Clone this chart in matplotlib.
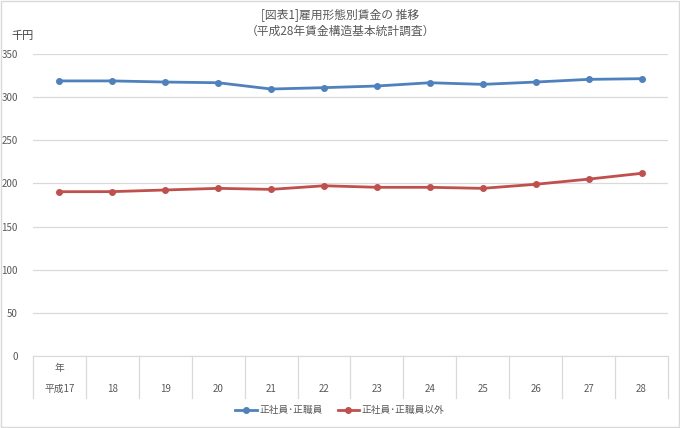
import matplotlib.pyplot as plt
from matplotlib.patches import Rectangle

plt.rcParams['font.family'] = ['Noto Sans CJK JP', 'DejaVu Sans']

years = ['平成17', '18', '19', '20', '21', '22', '23', '24', '25', '26', '27', '28']
regular = [318.8, 318.8, 317.5, 316.7, 309.4, 311.0, 312.9, 316.7, 314.8, 317.5, 320.6, 321.4]
non_regular = [190.4, 190.5, 192.4, 194.3, 193.1, 197.3, 195.5, 195.5, 194.3, 199.0, 205.0, 211.7]
yticks = [0, 50, 100, 150, 200, 250, 300, 350]

txt = '#595959'
grid = '#D9D9D9'

fig = plt.figure(figsize=(6.8, 4.28), dpi=100)
fig.patches.append(Rectangle((0.001, 0.002), 0.997, 0.995, transform=fig.transFigure,
                             fill=False, edgecolor=grid, linewidth=1))
ax = fig.add_axes([33 / 680, 1 - 356 / 428, 635 / 680, 302 / 428])

x = list(range(len(years)))
ax.plot(x, regular, color='#4F81BD', lw=2, marker='o', ms=4, label='正社員･正職員')
ax.plot(x, non_regular, color='#C0504D', lw=2, marker='o', ms=4, label='正社員･正職員以外')

ax.set_xlim(-0.5, len(years) - 0.5)
ax.set_ylim(0, 350)
ax.set_yticks(yticks)
ax.tick_params(axis='y', length=0, pad=11, labelsize=7, labelcolor=txt)
ax.set_xticks([])
ax.yaxis.grid(True, color=grid, lw=0.9)
ax.set_axisbelow(True)
for s in ['left', 'right', 'top']:
    ax.spines[s].set_visible(False)
ax.spines['bottom'].set_color(grid)

# x axis table
tr = ax.get_xaxis_transform()
for b in [i - 0.5 for i in range(len(years) + 1)]:
    ax.plot([b, b], [0, -42 / 302], color=grid, lw=0.9, transform=tr, clip_on=False)
for i, lab in enumerate(years):
    ax.text(i, -33 / 302, lab, transform=tr, ha='center', va='center', fontsize=7, color=txt)
ax.text(0, -12 / 302, '年', transform=tr, ha='center', va='center', fontsize=7, color=txt)

fig.text(23 / 680, 1 - 36 / 428, '千円', ha='center', va='center', fontsize=8, color='#404040')
fig.text(0.5, 1 - 15 / 428, '[図表1]雇用形態別賃金の 推移', ha='center', va='center',
         fontsize=8.5, color=txt)
fig.text(0.5, 1 - 31 / 428, '（平成28年賃金構造基本統計調査）', ha='center', va='center',
         fontsize=8.5, color=txt)

fig.legend(loc='center', bbox_to_anchor=(0.5, 1 - 410 / 428), ncol=2, frameon=False,
           fontsize=7, labelcolor=txt, handlelength=2.2, handletextpad=0.3, columnspacing=1.5)

fig.savefig('out.png', dpi=100)
